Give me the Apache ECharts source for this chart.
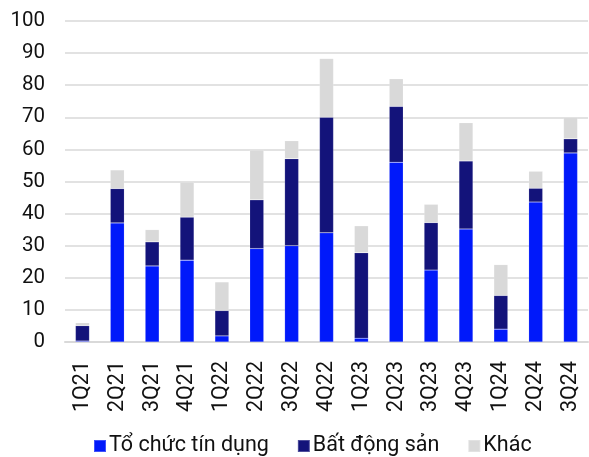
<!DOCTYPE html>
<html><head><meta charset="utf-8">
<script src="https://cdn.jsdelivr.net/npm/echarts@6/dist/echarts.min.js"></script>
<style>html,body{margin:0;padding:0;background:#fff}#c{width:589px;height:457px}</style>
</head><body><div id="c"></div>
<script>
const categories = ['1Q21','2Q21','3Q21','4Q21','1Q22','2Q22','3Q22','4Q22','1Q23','2Q23','3Q23','4Q23','1Q24','2Q24','3Q24'];
const toChucTinDung = [0.3, 37.1, 23.7, 25.5, 1.9, 29.1, 30.0, 34.0, 1.2, 56.0, 22.4, 35.2, 4.0, 43.6, 58.9];
const batDongSan    = [4.8, 10.7, 7.5, 13.4, 7.9, 15.2, 27.1, 36.0, 26.6, 17.4, 14.8, 21.2, 10.5, 4.3, 4.4];
const khac          = [0.9, 5.8, 3.8, 10.9, 8.9, 15.5, 5.6, 18.3, 8.4, 8.6, 5.7, 11.9, 9.6, 5.3, 6.7];
const seriesNames = ['Tổ chức tín dụng', 'Bất động sản', 'Khác'];

const font = 'Roboto';
const chart = echarts.init(document.getElementById('c'));
const mk = (name, data, color) => ({
  name, type: 'bar', stack: 'a', data, barWidth: 14,
  itemStyle: { color, borderColor: 'rgba(255,255,255,0.25)', borderWidth: 0.5 },
  emphasis: { disabled: true }
});
chart.setOption({
  animation: false,
  grid: { left: 65, right: 1, top: 21, bottom: 115 },
  legend: {
    top: 430, left: 88, itemWidth: 12, itemHeight: 12, itemGap: 28,
    icon: 'rect',
    textStyle: { fontFamily: font, fontSize: 21.5, color: '#111', padding: [0,0,0,-2] },
    data: seriesNames
  },
  xAxis: {
    type: 'category', data: categories,
    axisLine: { lineStyle: { color: '#d9d9d9', width: 2 } },
    axisTick: { show: false },
    axisLabel: { rotate: 90, fontFamily: font, fontSize: 21.5, color: '#111', margin: 19 }
  },
  yAxis: {
    type: 'value', min: 0, max: 100, interval: 10,
    axisLine: { show: false }, axisTick: { show: false },
    splitLine: { lineStyle: { color: '#d9d9d9', width: 1.5 } },
    axisLabel: { fontFamily: font, fontSize: 20.5, color: '#111', margin: 20 }
  },
  series: [
    mk(seriesNames[0], toChucTinDung, '#0019fa'),
    mk(seriesNames[1], batDongSan, '#13137a'),
    mk(seriesNames[2], khac, '#d9d9d9')
  ]
});
</script></body></html>
